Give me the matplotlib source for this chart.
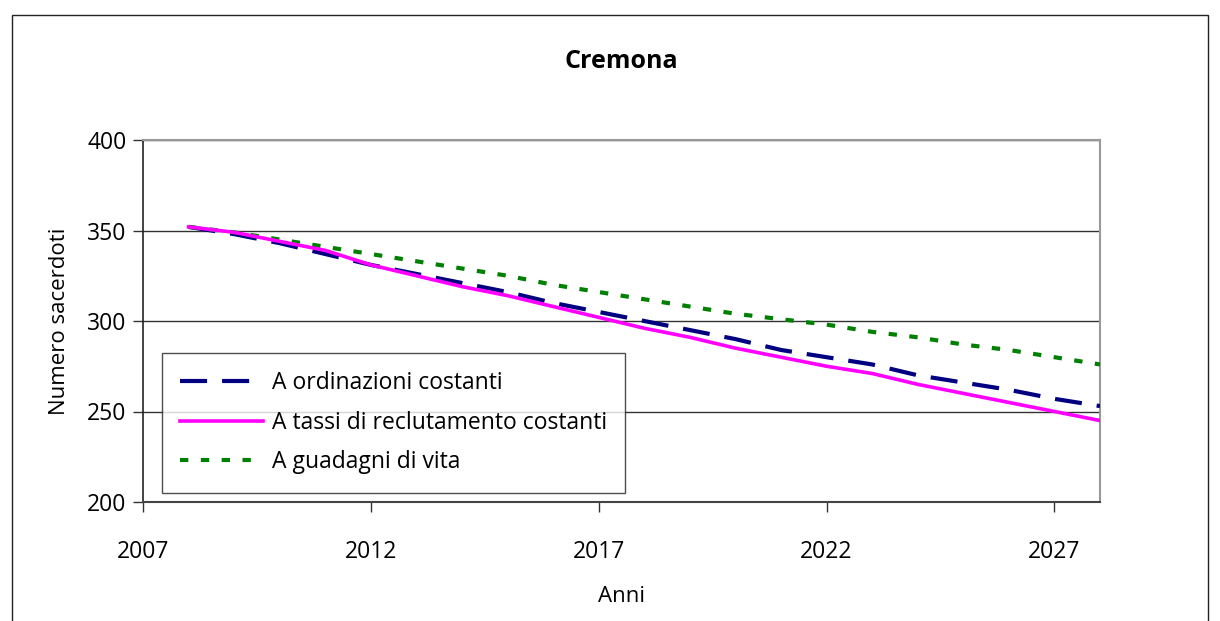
import matplotlib
matplotlib.use("Agg")
import matplotlib.pyplot as plt
from matplotlib.patches import Rectangle

plt.rcParams['font.family'] = ['Open Sans', 'DejaVu Sans']

years = list(range(2008, 2029))
ordinazioni = [352, 348, 343, 337, 331, 326, 321, 316, 310, 305, 300,
               295, 290, 284, 280, 276, 270, 266, 262, 257, 253]
reclutamento = [352, 349, 344, 339, 331, 325, 319, 314, 308, 302, 296,
                291, 285, 280, 275, 271, 265, 260, 255, 250, 245]
guadagni = [352, 349, 345, 341, 337, 333, 329, 325, 320, 316, 312,
            308, 304, 301, 298, 294, 291, 287, 284, 280, 276]
labels = ["A ordinazioni costanti", "A tassi di reclutamento costanti", "A guadagni di vita"]
xticks = [2007, 2012, 2017, 2022, 2027]
yticks = [200, 250, 300, 350, 400]

W, H = 1220, 621
fig = plt.figure(figsize=(W / 100, H / 100), dpi=100)
ax = fig.add_axes([143 / W, (H - 502) / H, 957 / W, 362 / H])

fig.patches.append(Rectangle((12 / W, -0.05), 1196 / W, 1.05 - 15 / H,
                             transform=fig.transFigure, fill=False,
                             edgecolor='#222222', linewidth=1.0))

ax.plot(years, ordinazioni, color='#000080', linewidth=3.0,
        dashes=(6.5, 3.6), label=labels[0], zorder=3)
ax.plot(years, reclutamento, color='#ff00ff', linewidth=2.6,
        label=labels[1], zorder=4)
ax.plot(years, guadagni, color='#008000', linewidth=3.0,
        dashes=(2.0, 3.0), label=labels[2], zorder=3)

ax.set_xlim(2007, 2028)
ax.set_ylim(200, 400)
ax.set_xticks(xticks)
ax.set_yticks(yticks)
ax.yaxis.grid(True, color='#333333', linewidth=1.0)
ax.set_axisbelow(True)
ax.tick_params(axis='both', direction='out', length=7, width=1, color='#333333',
               labelsize=16.5)
ax.tick_params(axis='x', pad=20)
ax.tick_params(axis='y', pad=5)
for s in ['top', 'right']:
    ax.spines[s].set_color('#999999')
    ax.spines[s].set_linewidth(1.5)
ax.spines['left'].set_color('#222222')
ax.spines['bottom'].set_color('#444444')
ax.spines['left'].set_linewidth(1.2)
ax.spines['bottom'].set_linewidth(1.5)

ax.set_title("Cremona", fontsize=18, fontweight='bold', pad=52)
ax.set_xlabel("Anni", fontsize=16, labelpad=16)
ax.set_ylabel("Numero sacerdoti", fontsize=16, labelpad=12)

leg = ax.legend(loc='upper left', bbox_to_anchor=((162 - 143) / 957, (502 - 353) / 362),
                fontsize=16.5, frameon=True, fancybox=False, edgecolor='#222222',
                handlelength=3.6, handletextpad=0.4, labelspacing=0.68,
                borderpad=0.8, borderaxespad=0)
leg.get_frame().set_linewidth(1.0)

fig.savefig("out.png", dpi=100)
